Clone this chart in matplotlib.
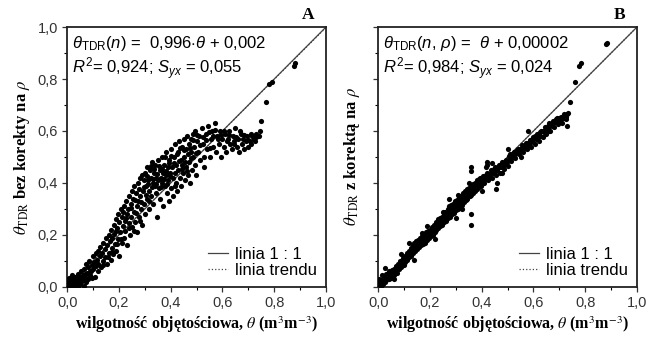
#!/usr/bin/env python3
import matplotlib
matplotlib.use("Agg")
import matplotlib.pyplot as plt
from matplotlib.ticker import MultipleLocator, FuncFormatter

plt.rcParams["font.family"] = ["Liberation Sans", "DejaVu Sans"]
plt.rcParams["mathtext.fontset"] = "custom"
plt.rcParams["mathtext.rm"] = "Liberation Sans"
plt.rcParams["mathtext.it"] = "Liberation Sans:italic"
plt.rcParams["mathtext.bf"] = "Liberation Sans:bold"

# panel A: theta_TDR without density correction vs volumetric water content
A_X = [
    0.005, 0.01, 0.012, 0.015, 0.02, 0.022, 0.025, 0.03, 0.03, 0.035, 0.038, 0.04, 0.042, 0.045,
    0.05, 0.05, 0.055, 0.058, 0.06, 0.065, 0.0, 0.008, 0.018,
    0.065, 0.07, 0.072, 0.075, 0.08, 0.08, 0.085, 0.088, 0.09, 0.095, 0.1, 0.1, 0.105, 0.108,
    0.11, 0.112, 0.115, 0.118, 0.12, 0.12,
    0.125, 0.128, 0.13, 0.135, 0.138, 0.14, 0.145, 0.148, 0.15, 0.152, 0.155, 0.16, 0.162, 0.165,
    0.168, 0.17, 0.172, 0.175, 0.178, 0.18, 0.182, 0.185, 0.188, 0.19, 0.192, 0.195, 0.198, 0.2,
    0.202, 0.205, 0.208, 0.21, 0.212, 0.215, 0.218, 0.22, 0.222, 0.225, 0.228, 0.23, 0.232, 0.235,
    0.238, 0.24, 0.242, 0.245, 0.248, 0.25, 0.252, 0.255, 0.258, 0.26, 0.262, 0.265, 0.268, 0.27,
    0.272, 0.275, 0.278, 0.28, 0.282, 0.285, 0.288, 0.29, 0.292, 0.295, 0.298, 0.3,
    0.302, 0.305, 0.308, 0.31, 0.312, 0.315, 0.318, 0.32, 0.322, 0.325, 0.328, 0.33, 0.332, 0.335,
    0.338, 0.34, 0.342, 0.345, 0.348, 0.35, 0.352, 0.355, 0.358, 0.36, 0.362, 0.365, 0.368, 0.37,
    0.372, 0.375, 0.378, 0.38, 0.382, 0.385, 0.388, 0.39, 0.392, 0.395, 0.398, 0.4,
    0.402, 0.405, 0.408, 0.41, 0.412, 0.415, 0.418, 0.42, 0.422, 0.425, 0.428, 0.43, 0.432, 0.435,
    0.438, 0.44, 0.442, 0.445, 0.448, 0.45, 0.452, 0.455, 0.458, 0.46, 0.462, 0.465, 0.468, 0.47,
    0.472, 0.475, 0.478, 0.48, 0.482, 0.485, 0.488, 0.49, 0.492, 0.495, 0.498, 0.5,
    0.505, 0.51, 0.515, 0.52, 0.525, 0.53, 0.535, 0.54, 0.545, 0.55, 0.555, 0.56, 0.565, 0.57,
    0.575, 0.58, 0.585, 0.59, 0.595, 0.6,
    0.605, 0.61, 0.615, 0.62, 0.625, 0.63, 0.635, 0.64, 0.645, 0.65, 0.655, 0.66, 0.665, 0.67,
    0.675, 0.68, 0.685, 0.69, 0.695, 0.7, 0.705, 0.71, 0.715, 0.72, 0.725, 0.73, 0.74, 0.75,
    0.77, 0.78, 0.79, 0.875, 0.88,
    0.003, 0.007, 0.013, 0.017, 0.027, 0.033, 0.043, 0.047, 0.053, 0.061, 0.068, 0.073, 0.083,
    0.093, 0.097,
    0.137, 0.157, 0.173, 0.187, 0.193, 0.207, 0.217, 0.227, 0.237, 0.247, 0.257, 0.263, 0.267,
    0.277, 0.283, 0.287, 0.297, 0.303, 0.307, 0.313, 0.317, 0.323, 0.327, 0.333, 0.337, 0.343,
    0.347, 0.353, 0.357, 0.363, 0.367, 0.373, 0.377, 0.383, 0.387, 0.393, 0.397, 0.403, 0.413,
    0.417, 0.423, 0.433, 0.437, 0.443, 0.453, 0.457, 0.463, 0.473, 0.477, 0.487, 0.497, 0.503,
    0.513, 0.523, 0.527, 0.537, 0.547, 0.553, 0.563, 0.573, 0.583, 0.593, 0.607, 0.617, 0.627,
    0.643, 0.653, 0.667, 0.683, 0.697, 0.712, 0.728, 0.745,
]
A_Y = [
    0.01, 0.005, 0.02, 0.0, 0.012, 0.03, 0.005, 0.018, 0.04, 0.01, 0.028, 0.0, 0.05, 0.02,
    0.035, 0.01, 0.06, 0.025, 0.045, 0.005, 0.02, 0.035, 0.045,
    0.07, 0.04, 0.09, 0.055, 0.03, 0.075, 0.1, 0.06, 0.045, 0.085, 0.12, 0.07, 0.095, 0.04,
    0.13, 0.08, 0.105, 0.06, 0.14, 0.09,
    0.12, 0.155, 0.075, 0.13, 0.1, 0.17, 0.145, 0.115, 0.19, 0.09, 0.16, 0.13, 0.2, 0.175,
    0.105, 0.22, 0.15, 0.19, 0.125, 0.24, 0.205, 0.165, 0.26, 0.14, 0.225, 0.185, 0.28, 0.12,
    0.25, 0.21, 0.3, 0.17, 0.27, 0.235, 0.19, 0.31, 0.255, 0.215, 0.33, 0.28, 0.16, 0.3,
    0.245, 0.35, 0.2, 0.32, 0.27, 0.37, 0.23, 0.34, 0.29, 0.39, 0.25, 0.36, 0.31, 0.21,
    0.4, 0.33, 0.27, 0.42, 0.35, 0.3, 0.43, 0.24, 0.37, 0.32, 0.41, 0.28,
    0.44, 0.39, 0.34, 0.46, 0.41, 0.3, 0.37, 0.45, 0.42, 0.35, 0.48, 0.4, 0.32, 0.44,
    0.39, 0.47, 0.36, 0.42, 0.27, 0.49, 0.41, 0.38, 0.45, 0.34, 0.42, 0.5, 0.4, 0.44,
    0.31, 0.47, 0.39, 0.43, 0.52, 0.36, 0.46, 0.41, 0.33, 0.49, 0.44, 0.38,
    0.53, 0.46, 0.42, 0.35, 0.5, 0.44, 0.55, 0.4, 0.47, 0.37, 0.52, 0.45, 0.56, 0.42,
    0.49, 0.39, 0.54, 0.47, 0.44, 0.57, 0.5, 0.41, 0.53, 0.46, 0.58, 0.43, 0.51, 0.55,
    0.48, 0.4, 0.57, 0.52, 0.45, 0.59, 0.5, 0.54, 0.47, 0.6, 0.43, 0.56,
    0.52, 0.58, 0.49, 0.61, 0.55, 0.46, 0.59, 0.53, 0.62, 0.5, 0.57, 0.6, 0.54, 0.63,
    0.52, 0.58, 0.55, 0.6, 0.5, 0.57,
    0.54, 0.59, 0.52, 0.57, 0.6, 0.55, 0.53, 0.58, 0.56, 0.61, 0.54, 0.57, 0.52, 0.59,
    0.55, 0.57, 0.53, 0.56, 0.58, 0.54, 0.56, 0.55, 0.58, 0.57, 0.56, 0.59, 0.58, 0.64,
    0.71, 0.78, 0.79, 0.85, 0.86,
    0.0, 0.015, 0.008, 0.025, 0.012, 0.0, 0.015, 0.038, 0.02, 0.032, 0.05, 0.02, 0.048,
    0.062, 0.035,
    0.085, 0.115, 0.135, 0.215, 0.165, 0.185, 0.29, 0.265, 0.225, 0.305, 0.215, 0.335, 0.285,
    0.375, 0.255, 0.325, 0.385, 0.355, 0.425, 0.395, 0.33, 0.465, 0.385, 0.415, 0.455, 0.395,
    0.435, 0.465, 0.415, 0.385, 0.455, 0.415, 0.5, 0.445, 0.395, 0.475, 0.425, 0.505, 0.475,
    0.39, 0.51, 0.485, 0.535, 0.455, 0.525, 0.48, 0.445, 0.535, 0.495, 0.565, 0.515, 0.585,
    0.545, 0.575, 0.5, 0.565, 0.595, 0.535, 0.58, 0.605, 0.57, 0.585, 0.6, 0.56, 0.585,
    0.55, 0.575, 0.6, 0.585, 0.565, 0.59, 0.575, 0.6,
]

# panel B: theta_TDR with density correction
B_X = [
    0.0, 0.005, 0.01, 0.012, 0.015, 0.02, 0.022, 0.025, 0.03, 0.032, 0.035, 0.04, 0.042, 0.045,
    0.05, 0.052, 0.055, 0.06, 0.062, 0.065, 0.07, 0.072, 0.075, 0.08, 0.082, 0.085, 0.088, 0.09,
    0.095, 0.098, 0.1,
    0.102, 0.105, 0.108, 0.11, 0.113, 0.115, 0.118, 0.12, 0.123, 0.125, 0.128, 0.13, 0.133, 0.135,
    0.138, 0.14, 0.143, 0.145, 0.148, 0.15, 0.153, 0.155, 0.158, 0.16, 0.163, 0.165, 0.168, 0.17,
    0.173, 0.175, 0.178, 0.18, 0.183, 0.185, 0.188, 0.19, 0.193, 0.195, 0.198, 0.2,
    0.203, 0.205, 0.208, 0.21, 0.213, 0.215, 0.218, 0.22, 0.223, 0.225, 0.228, 0.23, 0.233, 0.235,
    0.238, 0.24, 0.243, 0.245, 0.248, 0.25, 0.253, 0.255, 0.258, 0.26, 0.263, 0.265, 0.268, 0.27,
    0.273, 0.275, 0.278, 0.28, 0.283, 0.285, 0.288, 0.29, 0.293, 0.295, 0.298, 0.3,
    0.303, 0.305, 0.308, 0.31, 0.313, 0.315, 0.318, 0.32, 0.323, 0.325, 0.328, 0.33, 0.333, 0.335,
    0.338, 0.34, 0.343, 0.345, 0.348, 0.35, 0.353, 0.355, 0.358, 0.36, 0.363, 0.365, 0.368, 0.37,
    0.373, 0.375, 0.378, 0.38, 0.383, 0.385, 0.388, 0.39, 0.393, 0.395, 0.398, 0.4,
    0.36, 0.455, 0.36, 0.42, 0.415,
    0.405, 0.41, 0.415, 0.42, 0.425, 0.43, 0.435, 0.44, 0.445, 0.45, 0.455, 0.46, 0.465, 0.47,
    0.475, 0.48, 0.485, 0.49, 0.495, 0.5,
    0.505, 0.51, 0.515, 0.52, 0.525, 0.53, 0.535, 0.54, 0.545, 0.55, 0.555, 0.56, 0.565, 0.57,
    0.575, 0.58, 0.585, 0.59, 0.595, 0.6,
    0.605, 0.61, 0.615, 0.62, 0.625, 0.63, 0.635, 0.64, 0.645, 0.65, 0.655, 0.66, 0.665, 0.67,
    0.675, 0.68, 0.685, 0.69, 0.695, 0.7, 0.705, 0.71, 0.715, 0.72, 0.725, 0.73, 0.735, 0.73, 0.74,
    0.76, 0.775, 0.785, 0.88, 0.885,
    0.003, 0.008, 0.018, 0.028, 0.038, 0.047, 0.058, 0.067, 0.077, 0.087, 0.097, 0.107, 0.117,
    0.127, 0.137, 0.147, 0.157, 0.167, 0.177, 0.187, 0.197, 0.207, 0.217, 0.227, 0.237, 0.247,
    0.257, 0.267, 0.277, 0.287, 0.297, 0.307, 0.317, 0.327, 0.337, 0.347, 0.357, 0.367, 0.377,
    0.387, 0.397, 0.407, 0.417, 0.427, 0.437, 0.447, 0.457, 0.467, 0.477, 0.487, 0.497, 0.507,
    0.517, 0.527, 0.537, 0.547, 0.557, 0.567, 0.577, 0.587, 0.597, 0.607, 0.617, 0.627, 0.637,
    0.647, 0.657, 0.667, 0.677, 0.687, 0.697, 0.707, 0.717, 0.727,
    0.028, 0.118, 0.169, 0.272, 0.323, 0.36, 0.35, 0.458, 0.36, 0.42, 0.06, 0.09, 0.14, 0.19,
    0.22, 0.25, 0.3, 0.31, 0.4, 0.44, 0.48, 0.5, 0.55, 0.58, 0.62, 0.66,
]
B_Y = [
    0.01, 0.03, 0.0, 0.02, 0.045, 0.01, 0.035, 0.02, 0.05, 0.025, 0.04, 0.03, 0.06, 0.045,
    0.035, 0.065, 0.05, 0.07, 0.045, 0.06, 0.08, 0.055, 0.09, 0.07, 0.085, 0.1, 0.075, 0.09,
    0.11, 0.085, 0.1,
    0.12, 0.095, 0.11, 0.13, 0.105, 0.12, 0.14, 0.115, 0.13, 0.15, 0.12, 0.14, 0.16, 0.13,
    0.15, 0.17, 0.14, 0.16, 0.175, 0.145, 0.165, 0.18, 0.155, 0.17, 0.19, 0.16, 0.18, 0.195,
    0.165, 0.185, 0.2, 0.17, 0.19, 0.21, 0.18, 0.2, 0.215, 0.19, 0.205, 0.22,
    0.195, 0.215, 0.23, 0.2, 0.22, 0.24, 0.21, 0.23, 0.25, 0.22, 0.24, 0.26, 0.225, 0.245,
    0.265, 0.235, 0.255, 0.27, 0.24, 0.26, 0.28, 0.25, 0.27, 0.29, 0.255, 0.275, 0.3, 0.265,
    0.285, 0.31, 0.27, 0.29, 0.315, 0.28, 0.3, 0.32, 0.285, 0.305, 0.33, 0.295,
    0.31, 0.335, 0.3, 0.32, 0.345, 0.31, 0.33, 0.35, 0.315, 0.34, 0.36, 0.325, 0.345, 0.37,
    0.335, 0.355, 0.375, 0.34, 0.36, 0.38, 0.35, 0.37, 0.39, 0.355, 0.375, 0.395, 0.36, 0.38,
    0.4, 0.37, 0.39, 0.41, 0.375, 0.395, 0.415, 0.385, 0.405, 0.42, 0.39, 0.41,
    0.24, 0.375, 0.445, 0.47, 0.46,
    0.425, 0.4, 0.42, 0.44, 0.41, 0.43, 0.45, 0.42, 0.44, 0.46, 0.43, 0.45, 0.47, 0.44,
    0.46, 0.48, 0.455, 0.475, 0.49, 0.465,
    0.49, 0.51, 0.485, 0.5, 0.52, 0.495, 0.515, 0.53, 0.51, 0.525, 0.545, 0.52, 0.535, 0.555,
    0.53, 0.545, 0.565, 0.54, 0.56, 0.575,
    0.55, 0.57, 0.59, 0.56, 0.58, 0.6, 0.575, 0.595, 0.615, 0.59, 0.61, 0.63, 0.6, 0.62,
    0.64, 0.615, 0.635, 0.65, 0.625, 0.64, 0.655, 0.63, 0.65, 0.66, 0.645, 0.665, 0.67, 0.62, 0.71,
    0.787, 0.85, 0.86, 0.935, 0.94,
    0.02, 0.012, 0.03, 0.038, 0.05, 0.055, 0.062, 0.072, 0.078, 0.092, 0.098, 0.118, 0.125,
    0.138, 0.142, 0.155, 0.168, 0.17, 0.19, 0.195, 0.212, 0.222, 0.225, 0.238, 0.25, 0.255,
    0.262, 0.285, 0.295, 0.292, 0.312, 0.322, 0.335, 0.338, 0.352, 0.365, 0.362, 0.385, 0.38,
    0.402, 0.405, 0.412, 0.432, 0.425, 0.44, 0.452, 0.448, 0.462, 0.472, 0.468, 0.482, 0.505,
    0.5, 0.51, 0.525, 0.53, 0.535, 0.548, 0.552, 0.555, 0.568, 0.58, 0.575, 0.595, 0.6,
    0.605, 0.62, 0.625, 0.63, 0.645, 0.65, 0.645, 0.665, 0.655,
    0.073, 0.17, 0.207, 0.34, 0.30, 0.28, 0.40, 0.40, 0.463, 0.48, 0.03, 0.125, 0.105, 0.235,
    0.185, 0.29, 0.265, 0.355, 0.37, 0.475, 0.44, 0.53, 0.5, 0.6, 0.58, 0.6,
]

PANELS = [
    {
        "x": A_X, "y": A_Y, "letter": "A",
        "slope": 0.996, "intercept": 0.002,
        "eq": r"$\theta_{\mathrm{TDR}}(n)$ =  0,996$\cdot\theta$ + 0,002",
        "stats": r"$R^2$= 0,924; $S_{yx}$ = 0,055",
        "ylabel": r"$\theta_{\mathrm{TDR}}$ bez korekty na $\rho$",
    },
    {
        "x": B_X, "y": B_Y, "letter": "B",
        "slope": 1.0, "intercept": 0.00002,
        "eq": r"$\theta_{\mathrm{TDR}}(n,\,\rho)$ =  $\theta$ + 0,00002",
        "stats": r"$R^2$= 0,984; $S_{yx}$ = 0,024",
        "ylabel": r"$\theta_{\mathrm{TDR}}$ z korektą na $\rho$",
    },
]

XLABEL = r"wilgotność objętościowa, $\theta$ (m$^3$m$^{-3}$)"


def comma(v, pos):
    return f"{v:.1f}".replace(".", ",")


fig = plt.figure(figsize=(6.52, 3.42), dpi=100)
lefts = [0.103, 0.580]
for i, (p, left) in enumerate(zip(PANELS, lefts)):
    ax = fig.add_axes([left, 0.161, 0.397, 0.760])
    ax.scatter(p["x"], p["y"], s=14, color="black", linewidths=0, zorder=3)
    ax.plot([0, 1], [0, 1], color="#444444", lw=0.9, label="linia 1 : 1", zorder=2)
    ax.plot([0, 1], [p["intercept"], p["slope"] + p["intercept"]],
            color="#444444", lw=0.9, ls=":", label="linia trendu", zorder=2)
    ax.set_xlim(0, 1)
    ax.set_ylim(0, 1)
    ax.xaxis.set_major_locator(MultipleLocator(0.2))
    ax.yaxis.set_major_locator(MultipleLocator(0.2))
    ax.xaxis.set_minor_locator(MultipleLocator(0.1))
    ax.yaxis.set_minor_locator(MultipleLocator(0.1))
    ax.xaxis.set_major_formatter(FuncFormatter(comma))
    ax.yaxis.set_major_formatter(FuncFormatter(comma))
    ax.tick_params(which="major", direction="out", length=3.5, width=0.9,
                   labelsize=10.5, colors="#333333", pad=3)
    ax.tick_params(which="minor", direction="out", length=2, width=0.8)
    if i == 1:
        ax.tick_params(axis="y", labelleft=False)
    for s in ax.spines.values():
        s.set_linewidth(1.3)
        s.set_color("#222222")

    ax.text(0.02, 0.975, p["eq"] + "\n" + p["stats"], transform=ax.transAxes,
            ha="left", va="top", fontsize=12, linespacing=1.15)
    ax.text(0.955, 1.015, p["letter"], transform=ax.transAxes, ha="right", va="bottom",
            fontsize=12.5, fontweight="bold", family="Liberation Serif")

    ax.set_xlabel(XLABEL, fontsize=11.5, fontweight="bold", family="Liberation Serif",
                  math_fontfamily="stix", labelpad=3)
    ax.set_ylabel(p["ylabel"], fontsize=12, fontweight="bold", family="Liberation Serif",
                  math_fontfamily="stix", labelpad=4 if i == 0 else 6)

    ax.legend(loc="lower right", frameon=False, fontsize=12, handlelength=1.2,
              handletextpad=0.4, labelspacing=0.05, borderaxespad=0.15)

fig.savefig("out.png", dpi=100)
